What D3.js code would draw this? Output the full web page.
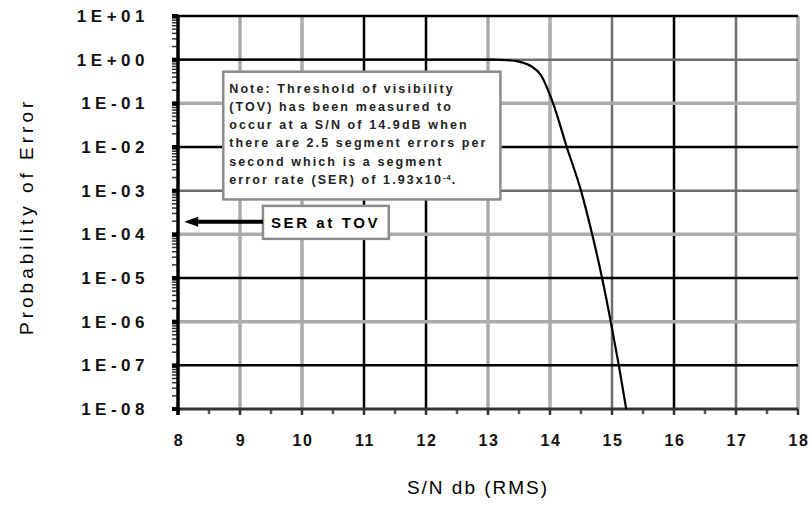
<!DOCTYPE html>
<html>
<head>
<meta charset="utf-8">
<script src="https://cdn.jsdelivr.net/npm/d3@7"></script>
<style>
  body { margin: 0; background: #fff; }
  svg { font-family: "Liberation Sans", Arial, sans-serif; }
</style>
</head>
<body>
<svg width="810" height="507"></svg>
<script>
// curve: S/N (dB) vs probability of error
var snr = [8, 13.1, 13.3, 13.5, 13.7, 13.85, 14.05, 14.27, 14.50, 14.68, 14.84, 14.98, 15.11, 15.23],
    perr = [1, 1, 0.98, 0.9, 0.7, 0.45, 0.1, 1e-2, 1e-3, 1e-4, 1e-5, 1e-6, 1e-7, 1e-8];

var xTicks = [8, 9, 10, 11, 12, 13, 14, 15, 16, 17, 18],
    yTicks = [1e1, 1e0, 1e-1, 1e-2, 1e-3, 1e-4, 1e-5, 1e-6, 1e-7, 1e-8],
    yLabels = ["1E+01", "1E+00", "1E-01", "1E-02", "1E-03", "1E-04", "1E-05", "1E-06", "1E-07", "1E-08"];

var serAtTov = 1.93e-4;
var noteLines = [
  "Note: Threshold of visibility",
  "(TOV) has been measured to",
  "occur at a S/N of 14.9dB when",
  "there are 2.5 segment errors per",
  "second which is a segment",
  "error rate (SER) of 1.93x10"
];

var svg = d3.select("svg"),
    margin = {top: 16, right: 12, bottom: 98, left: 178},
    width = 810 - margin.left - margin.right,
    height = 507 - margin.top - margin.bottom,
    g = svg.append("g").attr("transform", "translate(" + margin.left + "," + margin.top + ")");

var x = d3.scaleLinear().domain([8, 18]).range([0, width]);
var y = d3.scaleLog().domain([1e-8, 1e1]).range([height, 0]);

// gridline shades as they come out of the scan
var blackX = [11, 12, 16], darkX = [15, 17],
    blackY = [1e-2, 1e-5, 1e-7], darkY = [1e0, 1e-3];

function shade(v, blk, drk) {
  if (blk.indexOf(v) >= 0) return {c: "#000", w: 2.5};
  if (drk.indexOf(v) >= 0) return {c: "#6e6e6e", w: 2.5};
  return {c: "#ababab", w: 3.5};
}

g.selectAll(".gx")
    .data(xTicks.slice(1))
  .enter().append("line")
    .attr("x1", d => x(d)).attr("x2", d => x(d))
    .attr("y1", 0).attr("y2", height)
    .attr("stroke", d => shade(d, blackX, darkX).c)
    .attr("stroke-width", d => shade(d, blackX, darkX).w);

g.selectAll(".gy")
    .data(yTicks.slice(1, -1))
  .enter().append("line")
    .attr("x1", 0).attr("x2", width)
    .attr("y1", d => y(d)).attr("y2", d => y(d))
    .attr("stroke", d => shade(d, blackY, darkY).c)
    .attr("stroke-width", d => shade(d, blackY, darkY).w);

// top frame
g.append("line").attr("x1", 0).attr("x2", width).attr("y1", y(1e1)).attr("y2", y(1e1))
    .attr("stroke", "#000").attr("stroke-width", 2.5);

// x axis with half-unit minor ticks
var xMinor = d3.range(8.5, 18, 1);
g.selectAll(".xmin")
    .data(xMinor)
  .enter().append("line")
    .attr("x1", d => x(d)).attr("x2", d => x(d))
    .attr("y1", height).attr("y2", height + 5)
    .attr("stroke", "#555").attr("stroke-width", 2.5);
g.selectAll(".xmaj")
    .data(xTicks)
  .enter().append("line")
    .attr("x1", d => x(d)).attr("x2", d => x(d))
    .attr("y1", height).attr("y2", height + 6)
    .attr("stroke", "#333").attr("stroke-width", 2.5);
g.append("line").attr("x1", -2).attr("x2", width).attr("y1", height).attr("y2", height)
    .attr("stroke", "#333").attr("stroke-width", 3);

g.selectAll(".xlab")
    .data(xTicks)
  .enter().append("text")
    .attr("x", d => x(d) + 1).attr("y", height + 37)
    .attr("text-anchor", "middle")
    .attr("font-size", 16).attr("font-weight", "bold").attr("letter-spacing", 1.5)
    .attr("fill", "#111")
    .text(d => d);

// y axis with log minor ticks
var yMinor = [];
d3.range(-8, 1).forEach(function(e) {
  for (var k = 2; k < 10; k++) yMinor.push(k * Math.pow(10, e));
});
g.selectAll(".ymin")
    .data(yMinor)
  .enter().append("line")
    .attr("x1", -6).attr("x2", 0)
    .attr("y1", d => y(d)).attr("y2", d => y(d))
    .attr("stroke", "#333").attr("stroke-width", 1.5);
g.selectAll(".ymaj")
    .data(yTicks)
  .enter().append("line")
    .attr("x1", -6).attr("x2", 0)
    .attr("y1", d => y(d)).attr("y2", d => y(d))
    .attr("stroke", "#000").attr("stroke-width", 4);
g.append("line").attr("x1", 0).attr("x2", 0).attr("y1", 0).attr("y2", height + 6)
    .attr("stroke", "#000").attr("stroke-width", 3.5);

g.selectAll(".ylab")
    .data(yTicks)
  .enter().append("text")
    .attr("x", -29).attr("y", d => y(d))
    .attr("dy", "0.36em")
    .attr("text-anchor", "end")
    .attr("font-size", 17).attr("font-weight", "bold").attr("letter-spacing", 4.5)
    .attr("fill", "#111")
    .text((d, i) => yLabels[i]);

// axis titles
svg.append("text")
    .attr("x", margin.left + width / 2 - 10).attr("y", 494)
    .attr("text-anchor", "middle")
    .attr("font-size", 19).attr("letter-spacing", 2)
    .text("S/N db (RMS)");
svg.append("text")
    .attr("transform", "translate(33," + (margin.top + y(1e-4) - 18) + ") rotate(-90)")
    .attr("text-anchor", "middle")
    .attr("font-size", 19).attr("letter-spacing", 4)
    .text("Probability of Error");

// curve
var line = d3.line()
    .x((d, i) => x(snr[i]))
    .y((d, i) => y(perr[i]))
    .curve(d3.curveMonotoneX);
g.append("path")
    .datum(perr)
    .attr("fill", "none")
    .attr("stroke", "#000")
    .attr("stroke-width", 2.2)
    .attr("d", line);

// note box
var nx0 = x(8.73), nx1 = x(13.2), ny0 = y(0.53), ny1 = y(6.3e-4);
g.append("rect")
    .attr("x", nx0).attr("y", ny0).attr("width", nx1 - nx0).attr("height", ny1 - ny0)
    .attr("fill", "#fff").attr("stroke", "#8c8c8c").attr("stroke-width", 2.5);
var note = g.append("text")
    .attr("font-size", 12.5).attr("font-weight", "bold").attr("letter-spacing", 2.1)
    .attr("fill", "#222");
noteLines.forEach(function(t, i) {
  note.append("tspan")
      .attr("x", nx0 + 6).attr("y", ny0 + 21 + i * 18.2)
      .text(t);
});
note.append("tspan").attr("dy", -4).attr("font-size", 7.5).attr("letter-spacing", 1).text("-4");
note.append("tspan").attr("dy", 4).text(".");

// SER at TOV box and arrow
var sx0 = x(9.37), sx1 = x(11.4), sy = y(serAtTov);
g.append("rect")
    .attr("x", sx0).attr("y", sy - 16).attr("width", sx1 - sx0).attr("height", 33)
    .attr("fill", "#fff").attr("stroke", "#8c8c8c").attr("stroke-width", 2.5);
g.append("text")
    .attr("x", sx0 + 8).attr("y", sy + 1).attr("dy", "0.36em")
    .attr("font-size", 15).attr("font-weight", "bold").attr("letter-spacing", 2.6)
    .text("SER at TOV");

g.append("line")
    .attr("x1", sx0).attr("x2", x(8.1) + 12)
    .attr("y1", sy).attr("y2", sy)
    .attr("stroke", "#000").attr("stroke-width", 4);
g.append("path")
    .attr("d", d3.line()([[x(8.1), sy], [x(8.1) + 14, sy - 5], [x(8.1) + 14, sy + 5]]) + "Z")
    .attr("fill", "#000");
</script>
</body>
</html>
